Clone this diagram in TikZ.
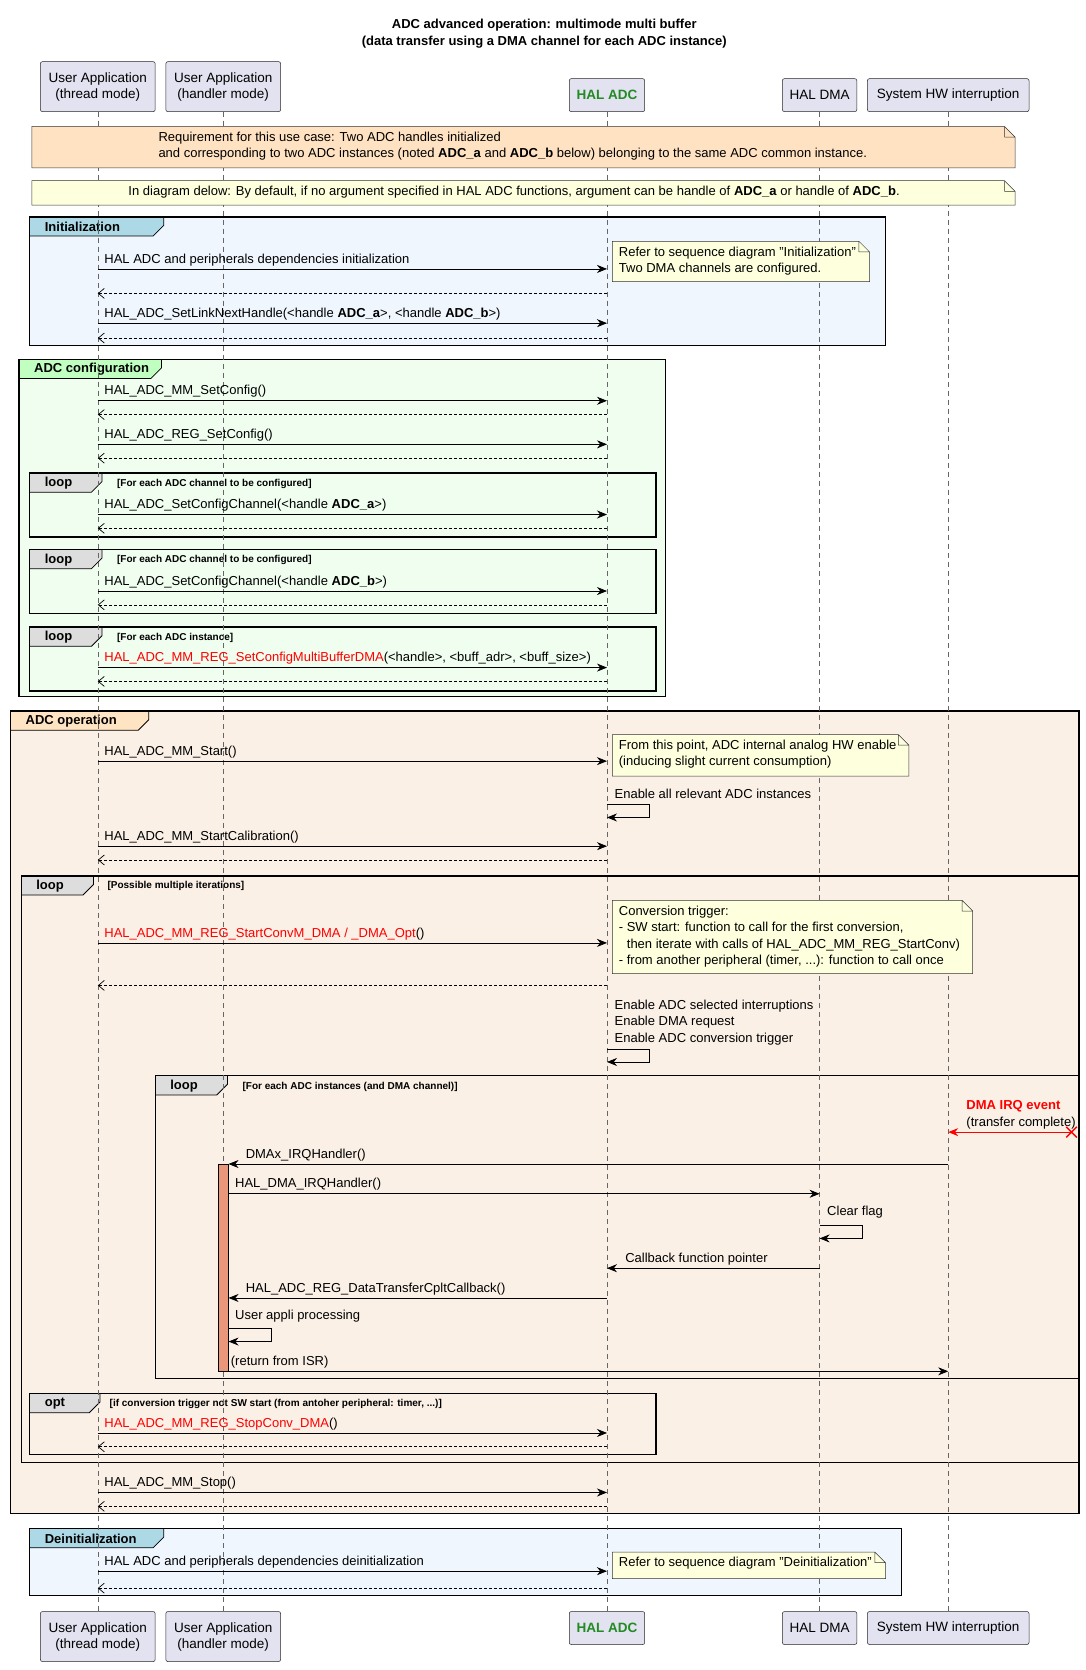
\documentclass[tikz,border=0pt]{standalone}
\usepackage{fontspec}
\setmainfont{Liberation Sans}
\usetikzlibrary{arrows.meta}
\definecolor{pbox}{HTML}{E2E2F0}
\definecolor{notey}{HTML}{FEFFDD}
\definecolor{noteo}{HTML}{FEE2C2}
\definecolor{initbg}{HTML}{EFF6FD}
\definecolor{inittab}{HTML}{ADD8E6}
\definecolor{cfgbg}{HTML}{F0FEF0}
\definecolor{cfgtab}{HTML}{C1FFC1}
\definecolor{opbg}{HTML}{FAF0E6}
\definecolor{optab}{HTML}{FFE4C4}
\definecolor{looptab}{HTML}{DDDDDD}
\definecolor{actc}{HTML}{E9967A}
\definecolor{hgreen}{HTML}{228B22}
\tikzset{
 part/.style={draw=black!85,fill=pbox,rounded corners=2pt,align=center,font=\fontsize{13.5}{16}\selectfont,line width=0.5pt},
 msg/.style={-{Stealth[length=10pt,width=8pt]},line width=0.7pt},
 ret/.style={-{Straight Barb[length=6pt,width=10pt]},line width=0.7pt,dash pattern=on 2.5pt off 2.5pt},
 lbl/.style={anchor=south west,inner sep=0,yshift=3pt,font=\fontsize{13}{15}\selectfont},
 frm/.style={line width=1.4pt},
 life/.style={draw=black!60,dash pattern=on 5pt off 4pt,line width=0.5pt},
}
\newcommand\sm[5]{\coordinate (s) at (#2,#1);\coordinate (t) at (#3,#1);\draw[msg] (s) -- (t);\node[lbl] at (#4,#1) {#5};}
\newcommand\rt[3]{\coordinate (s) at (#2,#1);\coordinate (t) at (#3,#1);\draw[ret] (s) -- (t);}
\newcommand\selfm[3]{\coordinate (s) at (#1,#2);\coordinate (t) at (#1,#3);\draw[msg] (s) -- ++(40,0) |- (t);}
\newcommand\mynote[6]{% x1 y1 x2 y2 color text
 \fill[#5] (#1,#2) -- (#3-10,#2) -- (#3,#2+10) -- (#3,#4) -- (#1,#4) -- cycle;
 \draw[black!80,line width=0.5pt] (#1,#2) -- (#3-10,#2) -- (#3,#2+10) -- (#3,#4) -- (#1,#4) -- cycle (#3-10,#2) |- (#3,#2+10);
 \node[anchor=north west,inner sep=0,align=left,font=\fontsize{13}{16.5}\selectfont] at (#1+6,#2+5) {#6};}
\newcommand\grp[8]{% x1 y1 x2 y2 bg tabcolor tabwidth title
 \fill[#5] (#1,#2) rectangle (#3,#4);
 \fill[#6] (#1,#2) -- (#1+#7,#2) -- (#1+#7,#2+8) -- (#1+#7-10,#2+18) -- (#1,#2+18) -- cycle;
 \draw[line width=0.8pt] (#1+#7,#2) -- (#1+#7,#2+8) -- (#1+#7-10,#2+18) -- (#1,#2+18);
 \draw[frm] (#1,#2) rectangle (#3,#4);
 \node[font=\bfseries\fontsize{13}{15}\selectfont,anchor=west,inner sep=0] at (#1+14,#2+9.5) {#8};}
\newcommand\lgrp[6]{% x1 y1 x2 y2 tabwidth title
 \fill[looptab] (#1,#2) -- (#1+#5,#2) -- (#1+#5,#2+8) -- (#1+#5-10,#2+18) -- (#1,#2+18) -- cycle;
 \draw[line width=0.8pt] (#1+#5,#2) -- (#1+#5,#2+8) -- (#1+#5-10,#2+18) -- (#1,#2+18);
 \draw[frm] (#1,#2) rectangle (#3,#4);
 \node[font=\bfseries\fontsize{13}{15}\selectfont,anchor=west,inner sep=0] at (#1+14,#2+9.5) {#6};}
\newcommand\cnd[3]{\node[font=\bfseries\fontsize{10}{12}\selectfont,anchor=west,inner sep=0] at (#1,#2) {#3};}
\begin{document}
\begin{tikzpicture}[x=1.0627pt,y=-1.0627pt]
\useasboundingbox[fill=white] (0,0) rectangle (1021,1571);
\node[font=\bfseries\fontsize{13}{17}\selectfont,align=center] (title) at (512,32) {ADC advanced operation: multimode multi buffer\\(data transfer using a DMA channel for each ADC instance)};
% frames
\grp{28}{204}{833}{325}{initbg}{inittab}{126}{Initialization}
\grp{18}{338}{626}{655}{cfgbg}{cfgtab}{134}{ADC configuration}
\grp{10}{669}{1015}{1424}{opbg}{optab}{130}{ADC operation}
\grp{28}{1438}{848}{1501}{initbg}{inittab}{126}{Deinitialization}
\lgrp{28}{445}{617}{505}{68}{loop}\cnd{110}{455}{[For each ADC channel to be configured]}
\lgrp{28}{517}{617}{577}{68}{loop}\cnd{110}{527}{[For each ADC channel to be configured]}
\lgrp{28}{590}{617}{650}{68}{loop}\cnd{110}{600}{[For each ADC instance]}
\lgrp{20}{824}{1015}{1376}{68}{loop}\cnd{101}{833}{[Possible multiple iterations]}
\lgrp{146}{1012}{1015}{1297}{68}{loop}\cnd{228}{1022}{[For each ADC instances (and DMA channel)]}
\lgrp{28}{1311}{617}{1368}{66}{opt}\cnd{103}{1321}{[if conversion trigger not SW start (from antoher peripheral: timer, ...)]}
% lifelines
\foreach \x in {92,210,571,771,892} \draw[life] (\x,105) -- (\x,1516);
% participants
\foreach \n/\x/\t in {ua/92/{User Application\\(thread mode)},uh/210/{User Application\\(handler mode)}}{
 \node[part,minimum width=108*1.0627pt,minimum height=47*1.0627pt] (\n top) at (\x,81.5) {\t};
 \node[part,minimum width=108*1.0627pt,minimum height=47*1.0627pt] (\n bot) at (\x,1539.5) {\t};}
\foreach \n/\x/\w/\t in {dma/771/70/{HAL DMA},hw/892/152/{System HW interruption}}{
 \node[part,minimum width=\w*1.0627pt,minimum height=31*1.0627pt] (\n top) at (\x,89.5) {\t};
 \node[part,minimum width=\w*1.0627pt,minimum height=31*1.0627pt] (\n bot) at (\x,1531.5) {\t};}
\node[part,minimum width=71*1.0627pt,minimum height=31*1.0627pt,text=hgreen,font=\bfseries\fontsize{13.5}{16}\selectfont] (adctop) at (571,89.5) {HAL ADC};
\node[part,minimum width=71*1.0627pt,minimum height=31*1.0627pt,text=hgreen,font=\bfseries\fontsize{13.5}{16}\selectfont] (adcbot) at (571,1531.5) {HAL ADC};
% notes
\mynote{30}{119}{955}{158}{noteo}{\hspace{120pt}Requirement for this use case: Two ADC handles initialized\\\hspace{120pt}and corresponding to two ADC instances (noted \textbf{ADC\_a} and \textbf{ADC\_b} below) belonging to the same ADC common instance.}
\mynote{30}{170}{955}{193}{notey}{\hspace{90pt}In diagram delow: By default, if no argument specified in HAL ADC functions, argument can be handle of \textbf{ADC\_a} or handle of \textbf{ADC\_b}.}
% init
\sm{253}{92}{571}{98}{HAL ADC and peripherals dependencies initialization}
\mynote{576}{227}{818}{265}{notey}{Refer to sequence diagram "Initialization"\\Two DMA channels are configured.}
\rt{276}{571}{92}
\sm{304}{92}{571}{98}{HAL\_ADC\_SetLinkNextHandle(<handle \textbf{ADC\_a}>, <handle \textbf{ADC\_b}>)}
\rt{318}{571}{92}
% config
\sm{377}{92}{571}{98}{HAL\_ADC\_MM\_SetConfig()}\rt{390}{571}{92}
\sm{418}{92}{571}{98}{HAL\_ADC\_REG\_SetConfig()}\rt{431}{571}{92}
\sm{484}{92}{571}{98}{HAL\_ADC\_SetConfigChannel(<handle \textbf{ADC\_a}>)}\rt{497}{571}{92}
\sm{556}{92}{571}{98}{HAL\_ADC\_SetConfigChannel(<handle \textbf{ADC\_b}>)}\rt{569}{571}{92}
\sm{628}{92}{571}{98}{\textcolor{red}{HAL\_ADC\_MM\_REG\_SetConfigMultiBufferDMA}(<handle>, <buff\_adr>, <buff\_size>)}\rt{641}{571}{92}
% operation
\sm{716}{92}{571}{98}{HAL\_ADC\_MM\_Start()}
\mynote{576}{691}{855}{730}{notey}{From this point, ADC internal analog HW enable\\(inducing slight current consumption)}
\node[lbl] at (578,754) {Enable all relevant ADC instances};
\selfm{571}{757}{769}
\sm{796}{92}{571}{98}{HAL\_ADC\_MM\_StartCalibration()}\rt{809}{571}{92}
\sm{887}{92}{571}{98}{\textcolor{red}{HAL\_ADC\_MM\_REG\_StartConvM\_DMA / \_DMA\_Opt}()}
\mynote{576}{847}{915}{916}{notey}{Conversion trigger:\\- SW start: function to call for the first conversion,\\\hspace*{8pt}then iterate with calls of HAL\_ADC\_MM\_REG\_StartConv)\\- from another peripheral (timer, ...): function to call once}
\rt{927}{571}{92}
\node[anchor=south west,inner sep=0,align=left,font=\fontsize{13}{16.5}\selectfont] at (578,983) {Enable ADC selected interruptions\\Enable DMA request\\Enable ADC conversion trigger};
\selfm{571}{987}{999}
% IRQ
\node[anchor=west,inner sep=0,text=red,font=\bfseries\fontsize{13}{15}\selectfont] at (909,1041) {DMA IRQ event};
\node[anchor=west,inner sep=0,font=\fontsize{13}{15}\selectfont] at (909,1057) {(transfer complete)};
\coordinate (irq) at (1008,1065);\coordinate (hwl) at (892,1065);
\draw[red,-{Stealth[length=10pt,width=8pt]},line width=0.8pt] (irq) -- (hwl);
\draw[red,line width=1.4pt] (irq)++(-5,-5) -- ++(10,10) (irq)++(-5,5) -- ++(10,-10);
\fill[actc] (205,1095) rectangle (215,1290);\draw[line width=0.5pt] (205,1095) rectangle (215,1290);
\sm{1095}{892}{215}{231}{DMAx\_IRQHandler()}
\sm{1123}{215}{771}{221}{HAL\_DMA\_IRQHandler()}
\node[lbl] at (778,1149) {Clear flag};
\selfm{771}{1153}{1165}
\sm{1193}{771}{571}{588}{Callback function pointer}
\sm{1221}{571}{215}{231}{HAL\_ADC\_REG\_DataTransferCpltCallback()}
\node[lbl] at (221,1247) {User appli processing};
\selfm{215}{1250}{1262}
\sm{1290}{215}{892}{217}{(return from ISR)}
\sm{1348}{92}{571}{98}{\textcolor{red}{HAL\_ADC\_MM\_REG\_StopConv\_DMA}()}\rt{1361}{571}{92}
\sm{1404}{92}{571}{98}{HAL\_ADC\_MM\_Stop()}\rt{1417}{571}{92}
% deinit
\sm{1478}{92}{571}{98}{HAL ADC and peripherals dependencies deinitialization}
\mynote{576}{1460}{833}{1485}{notey}{Refer to sequence diagram "Deinitialization"}
\rt{1494}{571}{92}
\end{tikzpicture}
\end{document}
